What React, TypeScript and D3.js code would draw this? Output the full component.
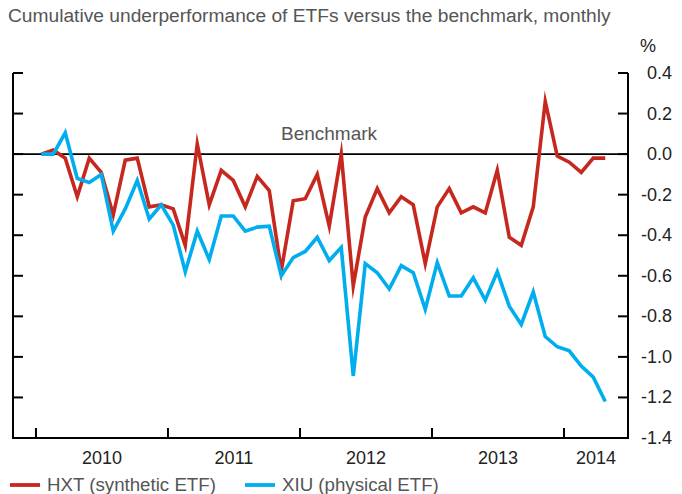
import React from "react";
import * as d3 from "d3";

// ---- Data ----
const title = "Cumulative underperformance of ETFs versus the benchmark, monthly";
const seriesNames = ["HXT (synthetic ETF)", "XIU (physical ETF)"];
const seriesColors = ["#c6281f", "#00aeef"];

// observations: first observation time (decimal year) and spacing
const obsStart = 2010.04;
const obsStep = 1 / 11;

const hxt = [
  0.0, 0.02, -0.02, -0.21, -0.02, -0.09, -0.3, -0.03, -0.02, -0.26, -0.25, -0.27,
  -0.45, 0.05, -0.25, -0.08, -0.13, -0.26, -0.11, -0.18, -0.575, -0.23, -0.22, -0.1,
  -0.355, 0.0, -0.65, -0.31, -0.17, -0.29, -0.21, -0.25, -0.54, -0.26, -0.17, -0.29,
  -0.26, -0.29, -0.08, -0.41, -0.45, -0.26, 0.26, -0.01, -0.04, -0.09, -0.02, -0.02,
];
const xiu = [
  0.0, 0.0, 0.105, -0.12, -0.14, -0.1, -0.38, -0.27, -0.13, -0.32, -0.25, -0.35,
  -0.58, -0.38, -0.52, -0.305, -0.305, -0.38, -0.36, -0.355, -0.6, -0.51, -0.48, -0.41,
  -0.525, -0.46, -1.094, -0.54, -0.585, -0.665, -0.55, -0.585, -0.765, -0.535, -0.7, -0.7,
  -0.61, -0.72, -0.58, -0.75, -0.84, -0.68, -0.9, -0.95, -0.97, -1.045, -1.1, -1.22,
];

const yearTicks = [2010, 2011, 2012, 2013, 2014];
const yearLabels = ["2010", "2011", "2012", "2013", "2014"];
const yTicks = [0.4, 0.2, 0.0, -0.2, -0.4, -0.6, -0.8, -1.0, -1.2, -1.4];
const xDomain = [2009.826, 2014.485];
const yDomain = [-1.4, 0.4];
const benchmarkLabelAt = 2012.22;

const W = 682;
const H = 494;
const FONT = "'Liberation Sans', Arial, Helvetica, sans-serif";

export default function App() {
  const x = d3.scaleLinear().domain(xDomain).range([13, 628]);
  const y = d3.scaleLinear().domain(yDomain).range([438, 73]);

  const line = d3
    .line<number>()
    .x((_, i) => x(obsStart + i * obsStep))
    .y((d) => y(d));

  const series = [hxt, xiu];
  const left = x(xDomain[0]);
  const right = x(xDomain[1]);
  const bottom = y(yDomain[0]);
  const top = y(yDomain[1]);

  // label centers: middle of each year segment, clipped at axis end
  const labelPos = yearTicks.map((t) => (t + Math.min(t + 1, xDomain[1])) / 2);

  return (
    <svg
      width={W}
      height={H}
      style={{ position: "absolute", left: 0, top: 0, background: "#fff" }}
      fontFamily={FONT}
    >
      <text x={8} y={22} fontSize={19.2} fill="#555">
        {title}
      </text>
      <text x={right + 12} y={52} fontSize={18} fill="#222">
        %
      </text>

      {/* zero / benchmark line */}
      <line x1={left} x2={right} y1={y(0)} y2={y(0)} stroke="#000" strokeWidth={1.6} />
      <text x={x(benchmarkLabelAt)} y={y(0) - 14} fontSize={19} fill="#555" textAnchor="middle">
        Benchmark
      </text>

      {/* series */}
      {series.map((s, k) => (
        <path
          key={k}
          d={line(s) || ""}
          fill="none"
          stroke={seriesColors[k]}
          strokeWidth={3.6}
          strokeLinejoin="miter"
          strokeMiterlimit={10}
        />
      ))}

      {/* axes frame */}
      <line x1={left} x2={left} y1={top} y2={bottom + 1} stroke="#000" strokeWidth={2} />
      <line x1={right} x2={right} y1={top} y2={bottom + 1} stroke="#000" strokeWidth={2} />
      <line x1={left - 1} x2={right + 1} y1={bottom} y2={bottom} stroke="#000" strokeWidth={2} />

      {yTicks.map((t) => (
        <g key={t}>
          <line x1={left} x2={left + 10} y1={y(t)} y2={y(t)} stroke="#000" strokeWidth={2} />
          <line x1={right - 10} x2={right} y1={y(t)} y2={y(t)} stroke="#000" strokeWidth={2} />
          <text x={672} y={y(t) + 6} fontSize={18} fill="#222" textAnchor="end">
            {t.toFixed(1)}
          </text>
        </g>
      ))}

      {yearTicks.map((t, i) => (
        <g key={t}>
          <line x1={x(t)} x2={x(t)} y1={bottom} y2={bottom - 10} stroke="#000" strokeWidth={2} />
          <text x={x(labelPos[i])} y={464} fontSize={18} fill="#222" textAnchor="middle">
            {yearLabels[i]}
          </text>
        </g>
      ))}

      {/* legend */}
      {seriesNames.map((n, k) => {
        const lx = k === 0 ? 10 : 245;
        return (
          <g key={n}>
            <line x1={lx} x2={lx + 30} y1={485} y2={485} stroke={seriesColors[k]} strokeWidth={3.8} />
            <text x={lx + 37} y={491} fontSize={18.7} fill="#555">
              {n}
            </text>
          </g>
        );
      })}
    </svg>
  );
}
